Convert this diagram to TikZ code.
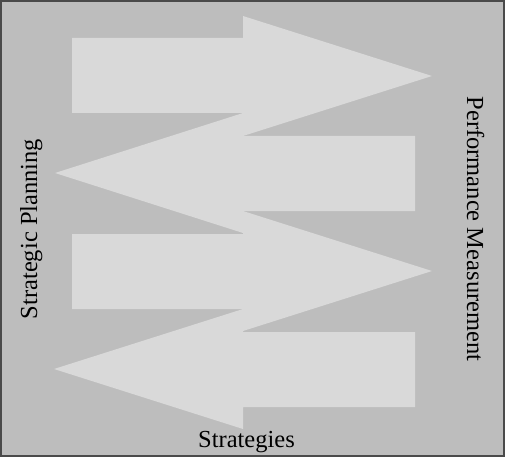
\documentclass[tikz,border=0pt]{standalone}
\usepackage{fontspec}
\setmainfont{Liberation Serif}
\definecolor{bggray}{HTML}{BDBDBD}
\definecolor{arrowgray}{HTML}{D9D9D9}
\definecolor{framegray}{HTML}{4A4A4A}
\tikzset{
  bigarrow/.style={fill=arrowgray, draw=none},
  lbl/.style={font=\fontsize{24.5}{29}\selectfont, text=black, inner sep=0pt, anchor=base},
}
\begin{document}
\begin{tikzpicture}[x=1pt,y=-1pt]
\useasboundingbox (0,0) rectangle (505,457);
\fill[bggray] (0,0) rectangle (505,457);
\draw[framegray, line width=1.6pt] (0.8,0.8) rectangle (504.2,456.2);
% arrow 1 (right)
\path[bigarrow] (72,38) -- (243,38) -- (243,16) -- (432,76) -- (243,136) -- (243,113) -- (72,113) -- cycle;
% arrow 2 (left)
\path[bigarrow] (415,136) -- (243,136) -- (243,113) -- (55,173) -- (243,233) -- (243,211) -- (415,211) -- cycle;
% arrow 3 (right)
\path[bigarrow] (72,234) -- (243,234) -- (243,211) -- (432,271) -- (243,331) -- (243,309) -- (72,309) -- cycle;
% arrow 4 (left)
\path[bigarrow] (415,332) -- (243,332) -- (243,309) -- (54,369) -- (243,429) -- (243,407) -- (415,407) -- cycle;
\node[lbl, rotate=90] (plan) at (37,229) {Strategic Planning};
\node[lbl, rotate=-90] (perf) at (467,229) {Performance Measurement};
\node[lbl] (strat) at (246.5,447) {Strategies};
\end{tikzpicture}
\end{document}
